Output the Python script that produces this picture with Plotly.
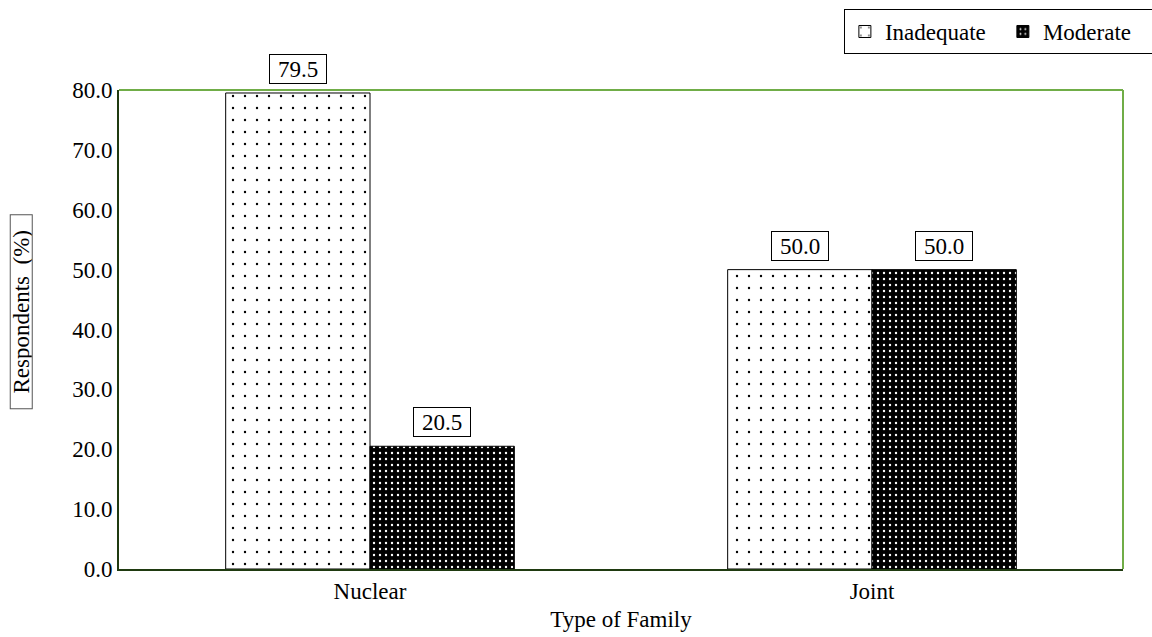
import plotly.graph_objects as go

categories = ["Nuclear", "Joint"]
inadequate = [79.5, 50.0]
moderate = [20.5, 50.0]
series_names = ["Inadequate", "Moderate"]

FONT = "Liberation Serif"
FS = 23

fig = go.Figure()
fig.add_trace(go.Bar(
    x=categories, y=inadequate, name=series_names[0],
    marker=dict(color="white", line=dict(color="black", width=1),
                pattern=dict(shape=".", fgcolor="black", bgcolor="white",
                             size=12, solidity=0.03, fillmode="replace")),
))
fig.add_trace(go.Bar(
    x=categories, y=moderate, name=series_names[1],
    marker=dict(color="black", line=dict(color="black", width=1),
                pattern=dict(shape=".", fgcolor="white", bgcolor="black",
                             size=6, solidity=0.12, fillmode="replace")),
))

# value labels
for vals, off in ((inadequate, -72), (moderate, 72)):
    for c, v in zip(categories, vals):
        fig.add_annotation(
            x=c, y=v, xref="x", yref="y", text=f"{v:.1f}", showarrow=False,
            xshift=off, yanchor="bottom", yshift=9, width=56, height=28,
            font=dict(family=FONT, size=FS, color="black"),
            bordercolor="black", borderwidth=1, borderpad=0, bgcolor="white",
        )

# boxed y-axis title
fig.add_annotation(
    x=0, y=0.536, xref="paper", yref="paper", xanchor="center", yanchor="middle",
    xshift=-98, text="Respondents  (%)", textangle=-90, showarrow=False,
    width=193, height=21,
    font=dict(family=FONT, size=FS, color="black"),
    bordercolor="#555555", borderwidth=1, borderpad=0, bgcolor="white",
)

fig.update_layout(
    width=1152, height=637,
    margin=dict(l=119, r=29, t=90, b=68, autoexpand=False),
    plot_bgcolor="white", paper_bgcolor="white",
    barmode="group", bargap=0.425, bargroupgap=0,
    font=dict(family=FONT, size=FS, color="black"),
    legend=dict(orientation="h", x=0.722, xanchor="left", y=1.169, yanchor="top",
                bordercolor="black", borderwidth=1, bgcolor="white",
                font=dict(family=FONT, size=FS), itemwidth=30,
                entrywidth=113, entrywidthmode="pixels",
                traceorder="normal"),
    xaxis=dict(title=dict(text="Type of Family", font=dict(family=FONT, size=FS), standoff=8),
               showline=True, linecolor="#1f3a10", linewidth=2, mirror=False,
               ticks="", tickfont=dict(family=FONT, size=FS)),
    yaxis=dict(range=[0, 80], dtick=10, tickformat=".1f", showgrid=False,
               showline=True, linecolor="#1f3a10", linewidth=2,
               ticks="", tickfont=dict(family=FONT, size=FS), zeroline=False),
    shapes=[
        dict(type="line", xref="paper", yref="paper", x0=0, x1=1, y0=1, y1=1,
             line=dict(color="#70AD47", width=2)),
        dict(type="line", xref="paper", yref="paper", x0=1, x1=1, y0=0, y1=1,
             line=dict(color="#70AD47", width=2)),
    ],
)

fig.write_html(
    "out.html",
    config={"displayModeBar": False},
    post_script="document.body.style.margin='0';document.body.style.overflow='hidden';",
)
